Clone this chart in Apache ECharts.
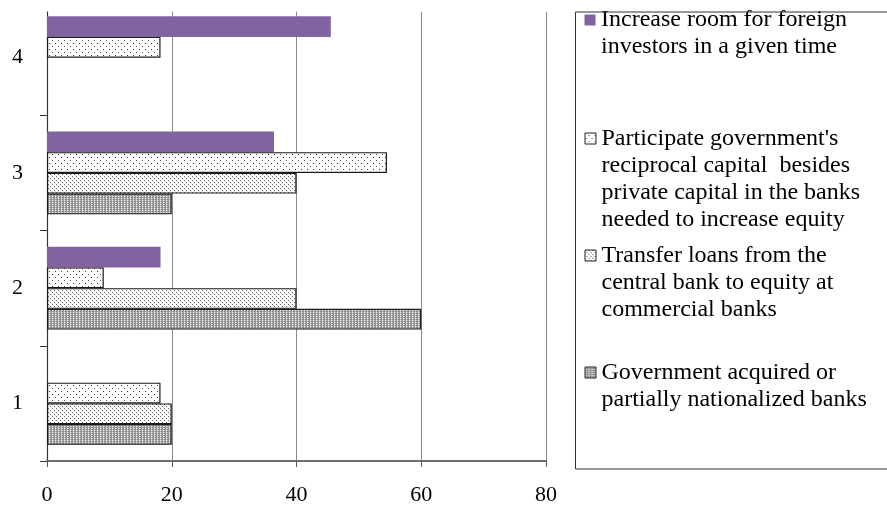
<!DOCTYPE html>
<html>
<head>
<meta charset="utf-8">
<script src="https://cdn.jsdelivr.net/npm/echarts@6/dist/echarts.min.js"></script>
<style>
html,body{margin:0;padding:0;background:#fff;}
#chart{width:887px;height:506px;}
</style>
</head>
<body>
<div id="chart"></div>
<script>
// ---- data (null = no bar shown for that group) ----
const categories = ['1', '2', '3', '4'];
const govAcquired = [20, 60, 20, null];
const transferLoans = [20, 40, 40, null];
const participateGov = [18.2, 9.1, 54.5, 18.2];
const increaseRoom = [null, 18.2, 36.4, 45.5];
const xTickValues = [0, 20, 40, 60, 80];
const seriesNames = [
  'Government acquired or partially nationalized banks',
  'Transfer loans from the central bank to equity at commercial banks',
  "Participate government's reciprocal capital besides private capital in the banks needed to increase equity",
  'Increase room for foreign investors in a given time'
];
const legendLines = [
  ['Government acquired or', 'partially nationalized banks'],
  ['Transfer loans from the', 'central bank to equity at', 'commercial banks'],
  ["Participate government's", 'reciprocal capital  besides', 'private capital in the banks', 'needed to increase equity'],
  ['Increase room for foreign', 'investors in a given time']
];

// ---- patterns ----
function makePattern(w, h, bg, pixels) {
  const c = document.createElement('canvas');
  c.width = w; c.height = h;
  const ctx = c.getContext('2d');
  ctx.fillStyle = bg; ctx.fillRect(0, 0, w, h);
  pixels.forEach(p => { ctx.fillStyle = p[2]; ctx.fillRect(p[0], p[1], 1, 1); });
  return { image: c, repeat: 'repeat' };
}
const govPattern = makePattern(3, 2, '#ffffff', [
  [0, 0, '#8a8a8a'], [0, 1, '#9a9a9a'], [1, 0, '#f0f0f0'], [1, 1, '#b0b0b0'], [2, 0, '#bdbdbd'], [2, 1, '#808080']
]);
const transferPattern = makePattern(4, 4, '#ffffff', [
  [0, 0, '#666'], [2, 2, '#666'], [1, 1, '#e0e0e0'], [3, 3, '#e0e0e0']
]);
const participatePattern = makePattern(6, 6, '#ffffff', [
  [1, 1, '#333'], [4, 4, '#555']
]);
const fills = [govPattern, transferPattern, participatePattern, '#8064A2'];
const seriesData = [govAcquired, transferLoans, participateGov, increaseRoom];

const FONT = 'Liberation Serif';
const LINE_H = 27;

// ECharts places the first series at the top of each band, so add them top-down
const drawOrder = [3, 2, 1, 0];
const series = drawOrder.map(i => ({
  name: seriesNames[i],
  type: 'bar',
  data: seriesData[i],
  barGap: '0%',
  barCategoryGap: '28%',
  itemStyle: i === 3
    ? { color: fills[i], borderWidth: 0 }
    : { color: fills[i], borderColor: '#1a1a1a', borderWidth: 1.2 },
  emphasis: { disabled: true },
  animation: false
}));

// legend, one per item, ordered top to bottom
const legendTops = [6.5, 124.5, 241.5, 358.5];
const legendOrder = [3, 2, 1, 0];
const legends = legendOrder.map((si, k) => {
  const n = legendLines[si].length;
  const h = LINE_H * n;
  return {
    data: [seriesNames[si]],
    orient: 'vertical',
    left: 584,
    top: legendTops[k],
    padding: 0,
    itemWidth: 12,
    itemHeight: h,
    selectedMode: false,
    icon: 'path://M0,0L0,0M12,' + h + 'L12,' + h + 'M0.5,8L11.5,8L11.5,19L0.5,19Z',
    itemStyle: si === 3 ? { borderWidth: 0 } : { borderWidth: 1, borderColor: '#222' },
    formatter: () => legendLines[si].join('\n'),
    textStyle: { fontFamily: FONT, fontSize: 24, lineHeight: LINE_H, color: '#000' }
  };
});

const chart = echarts.init(document.getElementById('chart'), null, { renderer: 'canvas' });
chart.setOption({
  animation: false,
  backgroundColor: '#fff',
  grid: { left: 47, right: 341, top: 0, bottom: 45, containLabel: false },
  xAxis: {
    type: 'value',
    min: xTickValues[0],
    max: xTickValues[xTickValues.length - 1],
    interval: xTickValues[1] - xTickValues[0],
    axisLine: { show: true, lineStyle: { color: '#6e6e6e', width: 2 } },
    axisTick: { show: true, inside: false, length: 6, lineStyle: { color: '#555', width: 1 } },
    splitLine: { show: true, lineStyle: { color: '#8c8c8c', width: 1 } },
    axisLabel: { fontFamily: FONT, fontSize: 22, color: '#000', margin: 23 }
  },
  yAxis: {
    type: 'category',
    data: categories,
    axisLine: { show: true, lineStyle: { color: '#333', width: 1.2 } },
    axisTick: { show: true, inside: false, length: 7, alignWithLabel: false, lineStyle: { color: '#333', width: 1 } },
    splitLine: { show: false },
    axisLabel: { fontFamily: FONT, fontSize: 22, color: '#000', margin: 24 }
  },
  legend: legends,
  graphic: [
    { type: 'rect', z: 100, silent: true, shape: { x: 0, y: 0, width: 570, height: 11.5 }, style: { fill: '#fff' } },
    { type: 'rect', z: 100, silent: true, shape: { x: 575.5, y: 12, width: 400, height: 457 }, style: { fill: 'none', stroke: '#333', lineWidth: 1 } }
  ],
  series: series
});
</script>
</body>
</html>
